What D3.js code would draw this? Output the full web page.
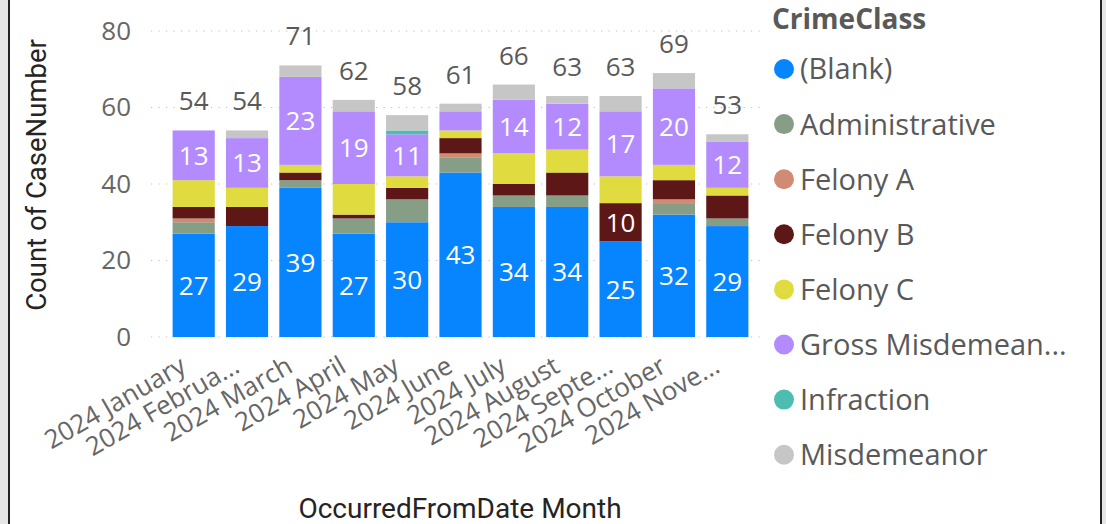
<!DOCTYPE html>
<html>
<head>
<meta charset="utf-8">
<script src="https://cdn.jsdelivr.net/npm/d3@7"></script>
<style>
    html, body { margin: 0; padding: 0; background: #e6e6e6; }
    svg { display: block; }
</style>
</head>
<body>
<script>
// chart data
const months = ["2024 January", "2024 February", "2024 March", "2024 April", "2024 May", "2024 June",
    "2024 July", "2024 August", "2024 September", "2024 October", "2024 November"];
const tickLabels = ["2024 January", "2024 Februa...", "2024 March", "2024 April", "2024 May", "2024 June",
    "2024 July", "2024 August", "2024 Septe...", "2024 October", "2024 Nove..."];
const yTicks = [0, 20, 40, 60, 80];

const crimeClasses = ["(Blank)", "Administrative", "Felony A", "Felony B", "Felony C",
    "Gross Misdemeanor", "Infraction", "Misdemeanor"];
const legendLabels = ["(Blank)", "Administrative", "Felony A", "Felony B", "Felony C",
    "Gross Misdemean...", "Infraction", "Misdemeanor"];
const classColors = ["#0784ff", "#869d86", "#d08b72", "#5e1717", "#e0dc40", "#b38bff", "#4dbdb2", "#c6c6c6"];

const blank = [27, 29, 39, 27, 30, 43, 34, 34, 25, 32, 29];
const administrative = [3, 0, 2, 4, 6, 4, 3, 3, 0, 3, 2];
const felonyA = [1, 0, 0, 0, 0, 1, 0, 0, 0, 1, 0];
const felonyB = [3, 5, 2, 1, 3, 4, 3, 6, 10, 5, 6];
const felonyC = [7, 5, 2, 8, 3, 2, 8, 6, 7, 4, 2];
const grossMisdemeanor = [13, 13, 23, 19, 11, 5, 14, 12, 17, 20, 12];
const infraction = [0, 0, 0, 0, 1, 0, 0, 0, 0, 0, 0];
const misdemeanor = [0, 2, 3, 3, 4, 2, 4, 2, 4, 4, 2];

const seriesValues = [blank, administrative, felonyA, felonyB, felonyC, grossMisdemeanor, infraction, misdemeanor];

// build rows for d3.stack
const rows = months.map(function (m, i) {
    const row = { month: m };
    crimeClasses.forEach(function (c, k) {
        row[c] = seriesValues[k][i];
    });
    row.total = d3.sum(seriesValues, function (s) { return s[i]; });
    return row;
});

const width = 1106, height = 524;
const textFont = "'Open Sans', 'Segoe UI', sans-serif";
const titleFont = "Roboto, 'DejaVu Sans', sans-serif";

const svg = d3.select("body").append("svg")
    .attr("width", width)
    .attr("height", height);

// visual frame
svg.append("rect")
    .attr("x", 9).attr("y", -2)
    .attr("width", 1092).attr("height", height + 4)
    .attr("fill", "#fff")
    .attr("stroke", "#222")
    .attr("stroke-width", 2);

const x = d3.scaleBand()
    .domain(months)
    .range([167, 754])
    .paddingInner(0.21)
    .paddingOuter(0.105);

const y = d3.scaleLinear()
    .domain([0, 80])
    .range([337, 31]);

const color = d3.scaleOrdinal().domain(crimeClasses).range(classColors);

// dotted gridlines
svg.append("g")
    .selectAll("line")
    .data(yTicks)
    .enter()
    .append("line")
    .attr("x1", 151)
    .attr("x2", 764)
    .attr("y1", function (d) { return y(d); })
    .attr("y2", function (d) { return y(d); })
    .attr("stroke", "#bdbdbd")
    .attr("stroke-width", 1.2)
    .attr("stroke-dasharray", "1.2,6.3");

// y axis labels
const yAxis = svg.append("g")
    .attr("transform", "translate(131,0)")
    .call(d3.axisLeft(y).tickValues(yTicks).tickSize(0).tickPadding(0));
yAxis.select(".domain").remove();
yAxis.selectAll("text")
    .attr("font-family", textFont)
    .attr("font-size", 26)
    .attr("fill", "#666");

// stacked bars
const stacked = d3.stack().keys(crimeClasses)(rows);

const layers = svg.append("g")
    .selectAll("g.layer")
    .data(stacked)
    .enter()
    .append("g")
    .classed("layer", true)
    .attr("fill", function (d) { return color(d.key); });

layers.selectAll("rect")
    .data(function (d) { return d; })
    .enter()
    .append("rect")
    .attr("x", function (d) { return x(d.data.month); })
    .attr("y", function (d) { return y(d[1]); })
    .attr("width", x.bandwidth())
    .attr("height", function (d) { return y(d[0]) - y(d[1]); });

// labels inside the big segments
layers.selectAll("text")
    .data(function (d) { return d.filter(function (p) { return p[1] - p[0] >= 10; }); })
    .enter()
    .append("text")
    .attr("x", function (d) { return x(d.data.month) + x.bandwidth() / 2; })
    .attr("y", function (d) { return (y(d[0]) + y(d[1])) / 2; })
    .attr("dy", "0.36em")
    .attr("text-anchor", "middle")
    .attr("font-family", textFont)
    .attr("font-size", 26)
    .attr("fill", "#fff")
    .text(function (d) { return d[1] - d[0]; });

// totals above bars
svg.append("g")
    .selectAll("text")
    .data(rows)
    .enter()
    .append("text")
    .attr("x", function (d) { return x(d.month) + x.bandwidth() / 2; })
    .attr("y", function (d) { return y(d.total) - 20; })
    .attr("text-anchor", "middle")
    .attr("font-family", textFont)
    .attr("font-size", 26)
    .attr("fill", "#595959")
    .text(function (d) { return d.total; });

// x axis labels, rotated
const xAxis = svg.append("g")
    .attr("transform", "translate(0,337)")
    .call(d3.axisBottom(x).tickSize(0).tickFormat(function (d, i) { return tickLabels[i]; }));
xAxis.select(".domain").remove();
xAxis.selectAll("text")
    .attr("font-family", textFont)
    .attr("font-size", 26)
    .attr("fill", "#666")
    .attr("text-anchor", "end")
    .attr("dy", 0)
    .attr("y", 0)
    .attr("transform", "translate(-6,34) rotate(-30)");

// axis titles
svg.append("text")
    .attr("x", 460)
    .attr("y", 518)
    .attr("text-anchor", "middle")
    .attr("font-family", titleFont)
    .attr("font-size", 28)
    .attr("fill", "#252423")
    .text("OccurredFromDate Month");

svg.append("text")
    .attr("transform", "translate(46,175) rotate(-90)")
    .attr("text-anchor", "middle")
    .attr("font-family", titleFont)
    .attr("font-size", 27.5)
    .attr("fill", "#252423")
    .text("Count of CaseNumber");

// legend
const legend = svg.append("g").attr("transform", "translate(772,0)");
legend.append("text")
    .attr("x", 0)
    .attr("y", 29)
    .attr("font-family", textFont)
    .attr("font-weight", "bold")
    .attr("font-size", 28)
    .attr("fill", "#595959")
    .text("CrimeClass");

const items = legend.selectAll("g.item")
    .data(crimeClasses)
    .enter()
    .append("g")
    .classed("item", true)
    .attr("transform", function (d, i) { return "translate(0," + (69 + i * 55.1) + ")"; });

items.append("circle")
    .attr("cx", 12)
    .attr("cy", 0)
    .attr("r", 10)
    .attr("fill", function (d) { return color(d); });

items.append("text")
    .attr("x", 28)
    .attr("y", 0)
    .attr("dy", "0.36em")
    .attr("font-family", textFont)
    .attr("font-size", 29)
    .attr("fill", "#595959")
    .text(function (d, i) { return legendLabels[i]; });
</script>
</body>
</html>
